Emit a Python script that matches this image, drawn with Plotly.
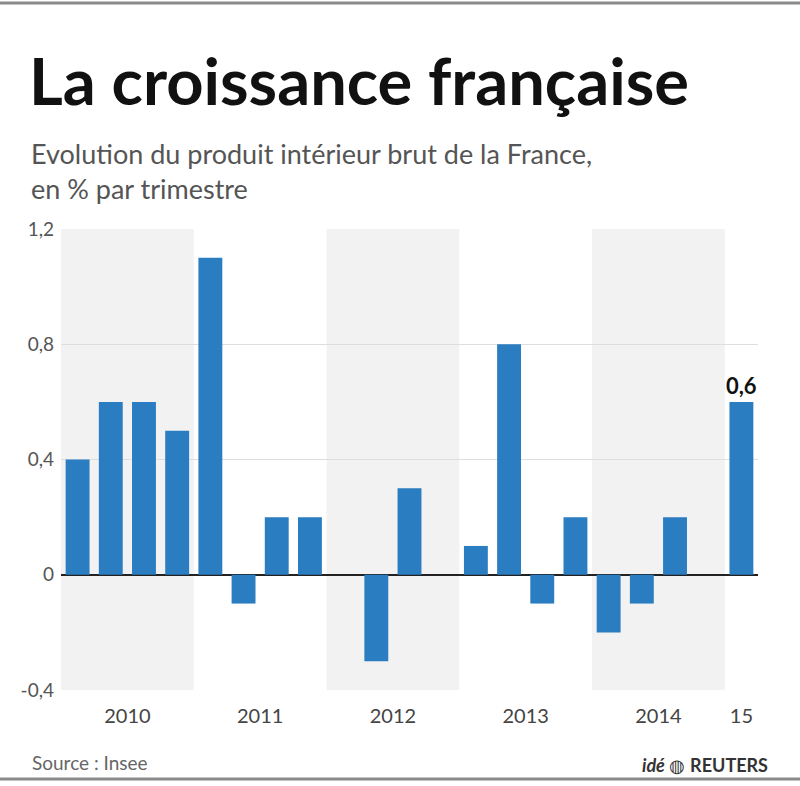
import plotly.graph_objects as go

# ---- data ----
quarters = ["T1 2010", "T2 2010", "T3 2010", "T4 2010",
            "T1 2011", "T2 2011", "T3 2011", "T4 2011",
            "T1 2012", "T2 2012", "T3 2012", "T4 2012",
            "T1 2013", "T2 2013", "T3 2013", "T4 2013",
            "T1 2014", "T2 2014", "T3 2014", "T4 2014",
            "T1 2015"]
growth = [0.4, 0.6, 0.6, 0.5,
          1.1, -0.1, 0.2, 0.2,
          0.0, -0.3, 0.3, 0.0,
          0.1, 0.8, -0.1, 0.2,
          -0.2, -0.1, 0.2, 0.0,
          0.6]
year_labels = ["2010", "2011", "2012", "2013", "2014", "15"]
year_label_pos = [1.5, 5.5, 9.5, 13.5, 17.5, 20]
shaded_years = [(-0.5, 3.5), (7.5, 11.5), (15.5, 19.5)]
y_ticks = [-0.4, 0, 0.4, 0.8, 1.2]
y_tick_text = ["-0,4", "0", "0,4", "0,8", "1,2"]

xs = list(range(len(quarters)))
labels = [""] * (len(growth) - 1) + ["<b>" + f"{growth[-1]:.1f}".replace(".", ",") + "</b>"]

BLUE = "#2a7dc0"
FONT = "Lato"

W, H = 800, 786
L, R, T, B = 61, 42, 229, 96
pw, ph = W - L - R, H - T - B


def px_x(X):
    return (X - L) / pw


def px_y(Y):
    return (H - B - Y) / ph


fig = go.Figure()
fig.add_trace(go.Bar(
    x=xs, y=growth, marker=dict(color=BLUE, line=dict(width=0)),
    text=labels, textposition="outside", cliponaxis=False, constraintext="none",
    textfont=dict(family=FONT, size=22, color="#111111"),
    hovertext=quarters, width=0.72,
))

shapes = []
for x0, x1 in shaded_years:
    shapes.append(dict(type="rect", xref="x", yref="paper", x0=x0, x1=x1, y0=0, y1=1,
                       fillcolor="#f2f2f2", line=dict(width=0), layer="below"))
# top and bottom frame lines
for Y in (3, 779):
    shapes.append(dict(type="line", xref="paper", yref="paper", x0=px_x(0), x1=px_x(800),
                       y0=px_y(Y), y1=px_y(Y), line=dict(color="#8a8a8a", width=3)))

annotations = [
    dict(text="<b>La croissance française</b>", x=px_x(27), y=px_y(80), xref="paper", yref="paper",
         xanchor="left", yanchor="middle", showarrow=False,
         font=dict(family=FONT, size=65, color="#111111")),
    dict(text="Evolution du produit intérieur brut de la France,<br>en % par trimestre",
         x=px_x(29), y=px_y(171), xref="paper", yref="paper", xanchor="left", yanchor="middle",
         showarrow=False, align="left",
         font=dict(family=FONT, size=27, color="#555555")),
    dict(text="Source : Insee", x=px_x(30), y=px_y(762), xref="paper", yref="paper",
         xanchor="left", yanchor="middle", showarrow=False,
         font=dict(family=FONT, size=19, color="#666666")),
    dict(text="<b><i>idé</i></b> ◍ <b>REUTERS</b>", x=px_x(770), y=px_y(765), xref="paper", yref="paper",
         xanchor="right", yanchor="middle", showarrow=False,
         font=dict(family=FONT, size=18, color="#333333")),
]

fig.update_layout(
    width=W, height=H,
    margin=dict(l=L, r=R, t=T, b=B, pad=0),
    paper_bgcolor="white", plot_bgcolor="white",
    showlegend=False, bargap=0.28,
    shapes=shapes, annotations=annotations,
    xaxis=dict(range=[-0.5, 20.5], tickvals=year_label_pos, ticktext=year_labels,
               showgrid=False, zeroline=False, showline=False, ticks="",
               tickfont=dict(family=FONT, size=20, color="#444444"), ticklabelstandoff=12),
    yaxis=dict(range=[-0.4, 1.2], tickvals=y_ticks, ticktext=y_tick_text,
               showgrid=True, gridcolor="#dedede", gridwidth=1,
               zeroline=True, zerolinecolor="#222222", zerolinewidth=2,
               showline=False, ticks="",
               tickfont=dict(family=FONT, size=19, color="#555555"), ticklabelstandoff=6),
)

fig.write_html("out.html")
